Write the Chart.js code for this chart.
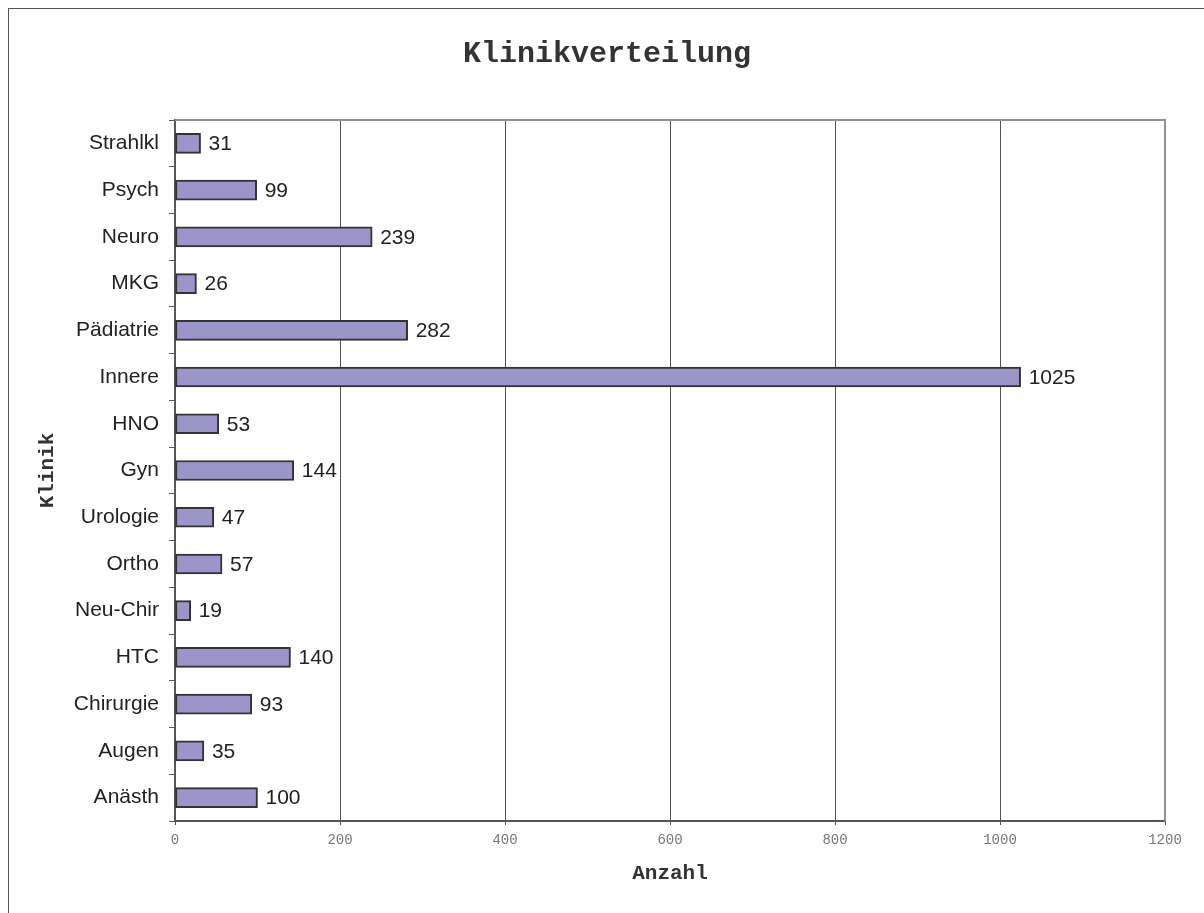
<!DOCTYPE html>
<html>
<head>
<meta charset="utf-8">
<title>Klinikverteilung</title>
<script src="https://cdn.jsdelivr.net/npm/chart.js@4/dist/chart.umd.min.js"></script>
<style>
    html, body { margin: 0; padding: 0; background: #fff; }
    #wrap { position: relative; width: 1204px; height: 913px; overflow: hidden; }
    #frame { position: absolute; left: 8px; top: 8px; width: 1300px; height: 1000px;
             border-left: 1px solid #555; border-top: 1px solid #555; pointer-events: none; }
    canvas { position: absolute; left: 0; top: 0; }
</style>
</head>
<body>
<div id="wrap">
    <canvas id="chart" width="1204" height="913"></canvas>
    <div id="frame"></div>
</div>
<script>
const chartTitle = 'Klinikverteilung';
const kliniken = ['Strahlkl', 'Psych', 'Neuro', 'MKG', 'Pädiatrie', 'Innere', 'HNO', 'Gyn',
    'Urologie', 'Ortho', 'Neu-Chir', 'HTC', 'Chirurgie', 'Augen', 'Anästh'];
const anzahl = [31, 99, 239, 26, 282, 1025, 53, 144, 47, 57, 19, 140, 93, 35, 100];
const xTicks = [0, 200, 400, 600, 800, 1000, 1200];

const monoFont = '"Liberation Mono", "Courier New", monospace';
const sansFont = '"Liberation Sans", Arial, sans-serif';
const ctx = document.querySelector('#chart').getContext('2d');

// chart heading, centred a little right of the canvas middle
const heading = {
    id: 'heading',
    afterDraw(chart) {
        const c = chart.ctx;
        c.save();
        c.font = 'bold 30px ' + monoFont;
        c.fillStyle = '#333';
        c.textAlign = 'center';
        c.textBaseline = 'middle';
        c.fillText(chartTitle, 607, 54);
        c.restore();
    }
};

// value labels next to each bar end
const barLabels = {
    id: 'barLabels',
    afterDatasetsDraw(chart) {
        const c = chart.ctx;
        const meta = chart.getDatasetMeta(0);
        c.save();
        c.font = '21px ' + sansFont;
        c.fillStyle = '#222';
        c.textAlign = 'left';
        c.textBaseline = 'middle';
        meta.data.forEach((bar, i) => {
            c.fillText(String(anzahl[i]), bar.x + 8, bar.y + 1);
        });
        c.restore();
    }
};

// top and right edge of the plot area
const plotFrame = {
    id: 'plotFrame',
    afterDraw(chart) {
        const a = chart.chartArea;
        const c = chart.ctx;
        c.save();
        c.strokeStyle = '#9b8e8c';
        c.lineWidth = 2;
        c.beginPath();
        c.moveTo(a.left, a.top);
        c.lineTo(a.right, a.top);
        c.lineTo(a.right, a.bottom);
        c.stroke();
        c.restore();
    }
};

new Chart(ctx, {
    type: 'bar',
    data: {
        labels: kliniken,
        datasets: [{
            data: anzahl,
            backgroundColor: '#9b95c9',
            borderColor: '#333',
            borderWidth: 2,
            borderSkipped: false,
            barThickness: 20
        }]
    },
    options: {
        indexAxis: 'y',
        responsive: false,
        animation: false,
        layout: { padding: { left: 0, right: 39, top: 120, bottom: 0 } },
        plugins: {
            legend: { display: false },
            tooltip: { enabled: false },
            title: { display: false }
        },
        scales: {
            x: {
                min: 0,
                max: 1200,
                afterBuildTicks: scale => { scale.ticks = xTicks.map(v => ({ value: v })); },
                afterFit: scale => { scale.height = 92; },
                grid: { color: '#555', lineWidth: 1, tickLength: 4, drawTicks: true },
                border: { color: '#5e5352', width: 2 },
                ticks: {
                    color: '#777',
                    padding: 7,
                    maxRotation: 0,
                    callback: value => String(value),
                    font: { family: monoFont, size: 14 }
                },
                title: {
                    display: true,
                    text: 'Anzahl',
                    color: '#333',
                    font: { family: monoFont, size: 21, weight: 'bold' },
                    padding: { top: 0, bottom: 27 }
                }
            },
            y: {
                afterFit: scale => { scale.width = 175; },
                grid: { offset: true, drawOnChartArea: false, tickLength: 6, color: '#555' },
                border: { color: '#5e5352', width: 2 },
                ticks: {
                    color: '#222',
                    padding: 10,
                    font: { family: sansFont, size: 21 }
                },
                title: {
                    display: true,
                    text: 'Klinik',
                    color: '#333',
                    font: { family: monoFont, size: 21, weight: 'bold' },
                    padding: { top: 35, bottom: 0 }
                }
            }
        }
    },
    plugins: [barLabels, plotFrame, heading]
});
</script>
</body>
</html>
